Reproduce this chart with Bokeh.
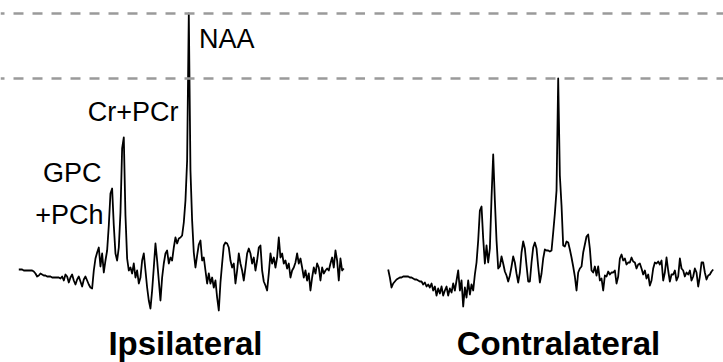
import numpy as np
from bokeh.plotting import figure
from bokeh.models import Range1d, Span, Label
from bokeh.layouts import row
from bokeh.embed import file_html
from bokeh.resources import INLINE

# chemical shift grid (ppm) shared by both spectra
ppm_start = 4.666
ppm_end = -0.412

# spectrum amplitudes (a.u.), high ppm -> low ppm
ipsilateral = [
    0, 0, 0, -1, -1, -1, -1, -1, -1, -2, -4, -7, -6, -4, -5, -6, -6, -7, -7, -7,
    -8, -8, -8, -8, -8, -9, -7, -11, -5, -7, -13, -8, -5, -11, -15, -10, -7, -12, -17, -10,
    -7, -11, -15, -18, -19, -1, 11, 17, 22, 3, 16, -3, 9, 19, 44, 76, 81, 44, 16, 9,
    22, 57, 121, 132, 54, 11, -1, 2, -4, 6, -8, -1, -14, -8, 9, 16, -1, -18, -31, -39,
    -21, 2, 26, 9, -11, -31, -8, 6, 16, 19, 6, 12, 9, 22, 32, 26, 31, 32, 34, 47,
    69, 109, 256, 99, 49, 17, 2, 14, 25, 29, 9, 12, -1, -14, -4, -14, -8, -18, -11, -28,
    -41, -13, 6, 24, 27, 26, 22, 9, 2, 6, -14, -1, 16, 6, -1, -11, 2, 16, 21, 16,
    6, 12, -1, 9, 22, 24, -1, -12, -16, -21, -4, 16, 6, 12, 2, 12, 32, 12, 16, 6,
    9, 1, 6, -8, -1, 2, 7, 16, 6, 11, 2, -8, -1, -11, -4, -21, -8, 2, -4, 6,
    2, -11, 2, -4, -1, 1, -1, 6, 12, 2, 19, 9, -11, 11, -1, 1,
]
contralateral = [
    0, -8, -18, -14, -12, -10, -9, -8, -8, -7, -7, -7, -7, -8, -8, -9, -10, -10, -11, -12,
    -12, -15, -13, -17, -15, -18, -14, -21, -17, -26, -19, -24, -17, -26, -21, -17, -26, -19, -23, -14,
    -21, -11, -1, -21, -11, -37, -18, -28, -11, -25, -15, -21, -5, 7, 29, 59, 63, 31, 6, 24,
    7, 21, 72, 115, 69, 29, 1, 3, 13, 6, -2, -6, -12, -6, 3, 13, 7, -4, -13, -3,
    17, 28, 21, 4, -12, -12, 7, 22, 27, 21, 3, -13, -4, 11, 20, 19, 19, 18, 19, 37,
    56, 79, 191, 94, 64, 24, 23, 28, 27, 20, 12, 3, -7, -21, -3, 1, 3, 17, 25, 33,
    35, 21, -1, -3, 3, -6, 3, -11, -9, -21, -6, -7, -2, -5, -3, -3, -1, -14, -7, 11,
    15, 9, 11, 5, 7, 7, 12, 8, 7, 1, 5, 6, 1, -5, -1, -9, -5, -16, -11, 1,
    7, 6, 8, 5, 9, -11, -3, 12, -1, -12, -5, -5, -1, -11, -7, 11, 1, -1, -7, -3,
    -5, -1, -11, -7, 1, -3, -17, -7, 7, 7, -3, -10, -6, -5, -2, 0,
]

# peak labels: (text, ppm, amplitude, alignment)
peak_labels = [
    ("NAA", 1.852, 231, "left"),
    ("Cr+PCr", 2.171, 158, "right"),
    ("GPC", 3.374, 97, "right"),
    ("+PCh", 3.343, 55, "right"),
]
panel_titles = ["Ipsilateral", "Contralateral"]
title_ppm = [2.062, 2.005]

H = 362
PX_PER_PPM = 64.0
Y_LOW, Y_HIGH = -93, 269
FONT = "Liberation Sans"


def make_panel(amps, width, left_px, title, tppm, dash_offset, labels):
    x0 = ppm_start + left_px / PX_PER_PPM
    x1 = ppm_start - (width - left_px) / PX_PER_PPM
    p = figure(width=width, height=H, output_backend="svg", toolbar_location=None,
               x_range=Range1d(x0, x1), y_range=Range1d(Y_LOW, Y_HIGH),
               x_axis_location=None, y_axis_location=None, min_border=0,
               outline_line_color=None, background_fill_color="white",
               border_fill_color="white")
    p.xgrid.visible = False
    p.ygrid.visible = False
    ppm = np.linspace(ppm_start, ppm_end, len(amps))
    # dashed reference lines at both NAA heights
    for lvl in (max(ipsilateral), max(contralateral)):
        p.add_layout(Span(location=lvl, dimension="width", line_color="#9a9a9a",
                          line_width=2.5, line_dash="10 9",
                          line_dash_offset=dash_offset))
    p.line(ppm, amps, line_color="black", line_width=1.8, line_join="round")
    for txt, xp, ya, al in labels:
        p.add_layout(Label(x=xp, y=ya, text=txt, text_align=al,
                           text_baseline="alphabetic", text_font=FONT,
                           text_font_size="27px", text_color="black"))
    p.add_layout(Label(x=tppm, y=-74, text=title, text_align="center",
                       text_baseline="alphabetic", text_font=FONT,
                       text_font_style="bold", text_font_size="33px",
                       text_color="black"))
    return p


p1 = make_panel(ipsilateral, 365, 18.3, panel_titles[0], title_ppm[0], 6, peak_labels)
p2 = make_panel(contralateral, 358, 22.7, panel_titles[1], title_ppm[1], 10, [])

layout = row(p1, p2)
open("out.html", "w").write(file_html(layout, INLINE))
